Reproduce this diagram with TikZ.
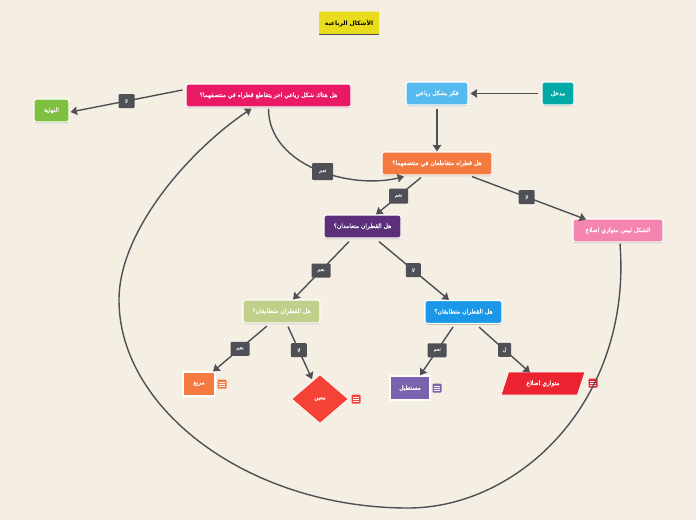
\documentclass[tikz,border=0pt]{standalone}
\usepackage{fontspec}
\usepackage{xcolor}
\usepackage{tikz}
\usetikzlibrary{shapes.geometric, arrows.meta, shadows}
\TeXXeTstate=1
\newfontfamily\arabicfont[Script=Arabic,FakeBold=0.5]{DejaVu Sans}
\newfontfamily\arabictitle[Script=Arabic]{DejaVu Sans Bold}
\newcommand{\artext}[1]{\beginR #1\endR}
\definecolor{paper}{HTML}{F4EEE3}
\definecolor{wire}{HTML}{4F5056}
\definecolor{titlefill}{HTML}{E8DC1C}
\definecolor{tealfill}{HTML}{00A9A5}
\definecolor{skyfill}{HTML}{55BBEE}
\definecolor{orangefill}{HTML}{F47A3F}
\definecolor{crimsonfill}{HTML}{E91A63}
\definecolor{greenfill}{HTML}{7FC040}
\definecolor{pinkfill}{HTML}{F584AE}
\definecolor{purplefill}{HTML}{5C2F7B}
\definecolor{olivefill}{HTML}{C0D08A}
\definecolor{bluefill}{HTML}{1A97E8}
\definecolor{violetfill}{HTML}{7B62AE}
\definecolor{rhombusfill}{HTML}{F44336}
\definecolor{redfill}{HTML}{EC2330}
\tikzstyle{softshadow} = [drop shadow={shadow xshift=0pt, shadow yshift=-1pt, opacity=0.3, fill=black}]
\tikzstyle{topic}   = [rectangle, rounded corners=2.5pt, minimum height=23pt, inner sep=0pt,
                        text centered, draw=white, line width=1.1pt, text=white, softshadow,
                        font=\arabicfont\fontsize{6}{7}\selectfont]
\tikzstyle{leaf}    = [topic, rounded corners=0pt, minimum height=24pt]
\tikzstyle{answer}  = [rectangle, rounded corners=1pt, fill=wire, text=white!85!wire, inner sep=0pt,
                        minimum height=14pt, font=\arabicfont\fontsize{5.2}{6}\selectfont]
\tikzstyle{noteicon} = [rectangle, rounded corners=1pt, minimum width=9pt, minimum height=9pt, inner sep=0pt,
                        path picture={
                          \foreach \rowy in {-2,0,2}
                            \draw[white, line width=0.9pt] ([xshift=-3pt,yshift=\rowy pt]path picture bounding box.center)
                              -- ([xshift=3pt,yshift=\rowy pt]path picture bounding box.center);
                        }]
\tikzstyle{arrow}   = [wire, line width=1.4pt, -{Stealth[length=6.5pt,width=8.5pt,inset=0.5pt]}]

\begin{document}
\begin{tikzpicture}[x=1pt, y=-1pt]
  \useasboundingbox[fill=paper] (0,0) rectangle (696,520);

  \node (title)    [rectangle, rounded corners=1pt, fill=titlefill, minimum width=60pt, minimum height=23pt, inner sep=0pt,
                    font=\arabictitle\fontsize{6}{7}\selectfont] at (349,23) {\artext{الأشكال الرباعية}};
  \draw[wire, line width=0.7pt] (title.south west) -- (title.south east);

  \node (start)    [topic, fill=tealfill, minimum width=32pt]    at (558,93.5)  {\artext{مدخل}};
  \node (think)    [topic, fill=skyfill, minimum width=62pt]     at (437,93.5)  {\artext{فكر بشكل رباعي}};
  \node (bisect)   [topic, fill=orangefill, minimum width=110pt] at (437,163.5) {\artext{هل قطراه متقاطعان في منتصفهما؟}};
  \node (another)  [topic, fill=crimsonfill, minimum width=165pt] at (268.5,95.5) {\artext{هل هناك شكل رباعي اخر يتقاطع قطراه في منتصفهما؟}};
  \node (finish)   [topic, fill=greenfill, minimum width=35pt]   at (51.5,110.5) {\artext{النهاية}};
  \node (notpara)  [topic, fill=pinkfill, minimum width=90pt]    at (618,230.5) {\artext{الشكل ليس متوازي اضلاع}};
  \node (perp)     [topic, fill=purplefill, minimum width=77pt]  at (362.5,226.5) {\artext{هل القطران متعامدان؟}};
  \node (equalyes) [topic, fill=olivefill, minimum width=77pt]   at (281.5,311.5) {\artext{هل القطران متطابقان؟}};
  \node (equalno)  [topic, fill=bluefill, minimum width=77pt]    at (463.5,312) {\artext{هل القطران متطابقان؟}};
  \node (square)   [leaf, fill=orangefill, minimum width=32pt]   at (199,384)   {\artext{مربع}};
  \node (rhombus)  [diamond, fill=rhombusfill, draw=white, line width=0.8pt, inner sep=0pt, minimum width=57pt, minimum height=49pt,
                    text=white, font=\arabicfont\fontsize{5.5}{6}\selectfont] at (320,399) {\artext{معين}};
  \node (rect)     [leaf, fill=violetfill, minimum width=40pt]   at (410,388)   {\artext{مستطيل}};
  \node (para)     [trapezium, trapezium left angle=59, trapezium right angle=121, trapezium stretches=true,
                    fill=redfill, draw=white, line width=0.8pt, inner sep=0pt, minimum width=84pt, minimum height=23pt,
                    text=white, font=\arabicfont\fontsize{6}{7}\selectfont] at (543,383.5) {\artext{متوازي اضلاع}};

  \node (squarenote)  [noteicon, fill=orangefill]  at (222,384) {};
  \node (rhombusnote) [noteicon, fill=rhombusfill] at (356,399) {};
  \node (rectnote)    [noteicon, fill=violetfill]  at (437,388) {};
  \node (paranote)    [noteicon, fill=redfill]     at (593,383) {};

  \draw[arrow] ([xshift=-3pt]start.west) -- ([xshift=2pt]think.east);
  \draw[arrow] ([yshift=-3pt]think.south) -- (bisect.north);
  \draw[arrow] ([xshift=-16pt,yshift=-2pt]bisect.south) -- node[answer, minimum width=19pt, minimum height=15pt, pos=.5] {\artext{نعم}} ([xshift=13.5pt]perp.north);
  \draw[arrow] ([xshift=35pt,yshift=-1pt]bisect.south) -- node[answer, minimum width=16pt, pos=.48] {\artext{لا}} ([xshift=-32pt,yshift=-1pt]notpara.north);
  \draw[arrow] ([xshift=-3pt,yshift=5.5pt]another.west) -- node[answer, minimum width=16pt, pos=.5] {\artext{لا}} ([xshift=1pt,yshift=-1.5pt]finish.east);
  \draw[arrow] ([yshift=-1pt]another.south) .. controls +(0,57) and (350,190) .. node[answer, minimum width=21pt, minimum height=17pt, pos=.54] {\artext{نعم}} ([xshift=-33pt,yshift=-1pt]bisect.south);
  \draw[arrow] ([xshift=-13.5pt,yshift=-3pt]perp.south) -- node[answer, minimum width=19pt, pos=.5] {\artext{نعم}} ([xshift=11.5pt]equalyes.north);
  \draw[arrow] ([xshift=16.5pt,yshift=-3pt]perp.south) -- node[answer, minimum width=15pt, pos=.49] {\artext{لا}} ([xshift=-14.5pt]equalno.north);
  \draw[arrow] ([xshift=-14.5pt,yshift=-2.5pt]equalyes.south) -- node[answer, minimum width=19pt, pos=.5] {\artext{نعم}} ([xshift=14pt]square.north);
  \draw[arrow] ([xshift=6.5pt,yshift=-3pt]equalyes.south) -- node[answer, minimum width=16pt, pos=.45] {\artext{لا}} ([xshift=-8pt,yshift=-5pt]rhombus.north);
  \draw[arrow] ([xshift=-10.5pt,yshift=-3pt]equalno.south) -- node[answer, minimum width=19pt, pos=.48] {\artext{نعم}} ([xshift=10pt]rect.north);
  \draw[arrow] ([xshift=15.5pt,yshift=-3pt]equalno.south) -- node[answer, minimum width=13pt, pos=.5] {\artext{ل}} ([xshift=-13pt,yshift=-1pt]para.north);
  \draw[arrow] ([xshift=2pt,yshift=-1pt]notpara.south)
        .. controls (632,400) and (520,508) .. (408,508)
        .. controls (250,508) and (119,410) .. (119,300)
        .. controls (119,230) and (190,150) .. ([xshift=-17pt,yshift=-1pt]another.south);
\end{tikzpicture}
\end{document}
